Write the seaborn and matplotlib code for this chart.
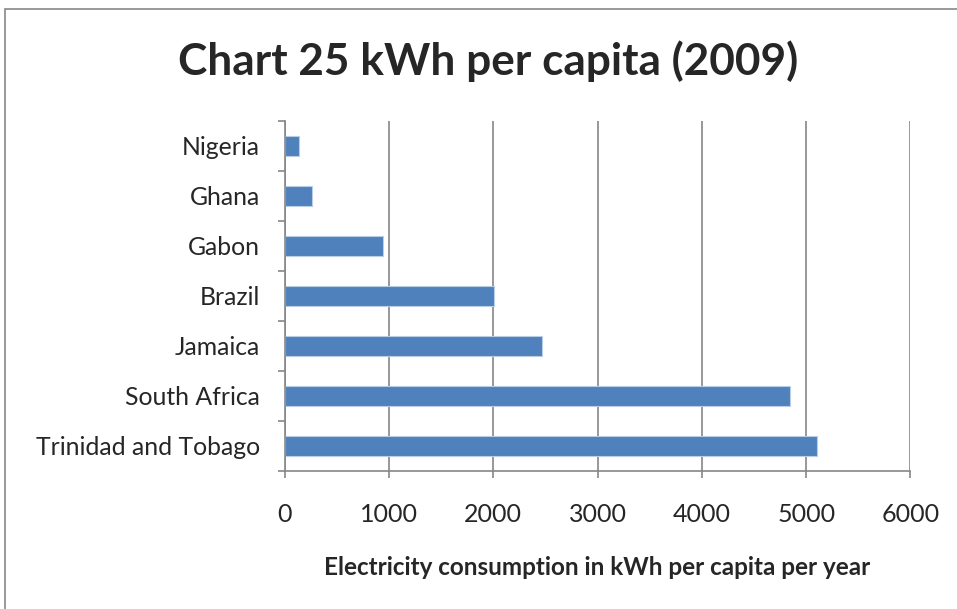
import matplotlib
matplotlib.use("Agg")
import matplotlib.pyplot as plt
import seaborn as sns
import pandas as pd
from matplotlib.patches import Rectangle

# values
countries = ["Nigeria", "Ghana", "Gabon", "Brazil", "Jamaica",
             "South Africa", "Trinidad and Tobago"]
kwh = [140, 265, 940, 2005, 2470, 4845, 5105]
x_ticks = [0, 1000, 2000, 3000, 4000, 5000, 6000]

df = pd.DataFrame({"country": countries, "kwh": kwh})

sns.set_style("white")
plt.rcParams["font.family"] = ["Lato", "DejaVu Sans"]

fig = plt.figure(figsize=(9.57, 6.09), dpi=100)
ax = fig.add_axes([0.2975, 0.2271, 0.6539, 0.5747])

sns.barplot(data=df, x="kwh", y="country", order=countries, orient="h",
            color="#4F81BD", saturation=1, width=0.4,
            edgecolor="#B9CDE5", linewidth=0.8, ax=ax)

grid_col = "#868686"
ax.set_xlim(0, 6000)
ax.set_ylim(len(countries) - 0.5, -0.5)
ax.set_xticks(x_ticks)
ax.set_xticklabels([str(t) for t in x_ticks])
ax.xaxis.grid(True, color=grid_col, linewidth=1.2)
ax.set_axisbelow(True)

for side in ["top", "right"]:
    ax.spines[side].set_visible(False)
for side in ["left", "bottom"]:
    ax.spines[side].set_color(grid_col)
    ax.spines[side].set_linewidth(1.2)

# Excel-style tick marks between categories
ax.set_yticks([i + 0.5 for i in range(-1, len(countries))], minor=True)
ax.tick_params(axis="y", which="major", length=0, pad=18, labelsize=17.8)
ax.tick_params(axis="y", which="minor", left=True, length=5, width=1.2,
               color=grid_col, direction="out")
ax.tick_params(axis="x", which="major", bottom=True, length=5, width=1.2,
               color=grid_col, direction="out", pad=18, labelsize=18)

ax.set_ylabel("")
ax.set_xlabel("Electricity consumption in kWh per capita per year",
              fontsize=17.5, fontweight="bold", labelpad=22)

fig.text(0.51, 0.9, "Chart 25 kWh per capita (2009)", ha="center",
         va="center", fontsize=31.8, fontweight="bold")

# chart border
fig.patches.append(Rectangle((5 / 957, -0.1), 1.2, 1.1 - 9 / 609,
                             transform=fig.transFigure, fill=False,
                             edgecolor="#888888", linewidth=1.2))

fig.savefig("out.png", dpi=100)
